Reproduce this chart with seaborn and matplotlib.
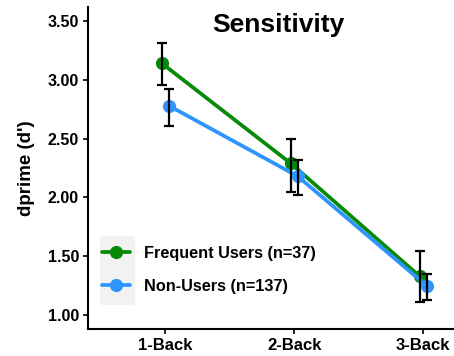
import numpy as np
import pandas as pd
import matplotlib
matplotlib.use("Agg")
import matplotlib.pyplot as plt
from matplotlib.patches import Rectangle
import seaborn as sns

# ---- data ----
conditions = ["1-Back", "2-Back", "3-Back"]
groups = ["Frequent Users (n=37)", "Non-Users (n=137)"]
freq_mean = [3.14, 2.29, 1.33]
freq_low = [2.96, 2.05, 1.11]
freq_high = [3.31, 2.50, 1.54]
non_mean = [2.78, 2.18, 1.25]
non_low = [2.61, 2.02, 1.13]
non_high = [2.92, 2.32, 1.35]
y_ticks = [1.00, 1.50, 2.00, 2.50, 3.00, 3.50]
title = "Sensitivity"
y_label = "dprime (d')"

colors = ["#078A07", "#2E95FF"]
DODGE = 0.027

rows = []
for gi, (g, m, lo, hi) in enumerate(zip(groups, [freq_mean, non_mean],
                                          [freq_low, non_low], [freq_high, non_high])):
    off = -DODGE if gi == 0 else DODGE
    for ci, c in enumerate(conditions):
        rows.append(dict(group=g, cond=c, pos=ci + off, mean=m[ci], low=lo[ci], high=hi[ci]))
df = pd.DataFrame(rows)

sns.set_theme(style="white")
plt.rcParams["font.family"] = ["Liberation Sans", "DejaVu Sans"]
plt.rcParams["font.weight"] = "bold"
plt.rcParams["text.color"] = "black"
plt.rcParams["axes.labelcolor"] = "black"

fig = plt.figure(figsize=(4.54, 3.56), dpi=100)
ax = fig.add_axes([88 / 454, 1 - 329 / 356, 1 - 88 / 454, (329 - 7) / 356])

sns.lineplot(data=df, x="pos", y="mean", hue="group", hue_order=groups,
             palette=colors, marker="o", markersize=9.5, markeredgewidth=0,
             linewidth=2.7, ax=ax, legend=True, zorder=2)

for gi, g in enumerate(groups):
    sub = df[df.group == g]
    ax.errorbar(sub["pos"], sub["mean"],
                yerr=[sub["mean"] - sub["low"], sub["high"] - sub["mean"]],
                fmt="none", ecolor="black", elinewidth=1.6, capsize=3.3,
                capthick=1.6, zorder=3)

ax.set_xlim(-0.6, 2.24)
ax.set_ylim(0.881, 3.619)
ax.set_xticks(range(len(conditions)))
ax.set_xticklabels(conditions)
ax.set_yticks(y_ticks)
ax.set_yticklabels([f"{v:.2f}" for v in y_ticks])
ax.set_xlabel("")
ax.set_ylabel(y_label, fontsize=13.5, fontweight="bold", labelpad=9, color="black")
ax.tick_params(axis="both", labelsize=11.5, colors="black", length=3.5, width=1.2,
               direction="out", left=True, bottom=True, pad=3)
ax.tick_params(axis="x", labelsize=12)
for lab in ax.get_xticklabels() + ax.get_yticklabels():
    lab.set_fontweight("bold")

for s in ["top", "right"]:
    ax.spines[s].set_visible(False)
for s in ["left", "bottom"]:
    ax.spines[s].set_color("black")
    ax.spines[s].set_linewidth(1.5)

ax.text(0.876, 3.466, title, fontsize=19, fontweight="bold", ha="center", va="center",
        color="black", transform=ax.transData)

# legend with grey key background
bg = Rectangle((100 / 454, 1 - 305 / 356), 35 / 454, 69 / 356,
               transform=fig.transFigure, facecolor="#F2F2F2",
               edgecolor="none", zorder=1, clip_on=False)
ax.add_patch(bg)
handles, labels = ax.get_legend_handles_labels()
leg = ax.legend(handles, labels, loc="center left", frameon=False,
                bbox_to_anchor=(102 / 454, 1 - 270 / 356), bbox_transform=fig.transFigure,
                prop={"weight": "bold", "size": 11.7}, handlelength=1.75,
                handletextpad=0.85, labelspacing=1.1, borderpad=0.0, borderaxespad=0.0)
leg.set_zorder(6)
for t in leg.get_texts():
    t.set_color("black")

fig.savefig("out.png", dpi=100)
